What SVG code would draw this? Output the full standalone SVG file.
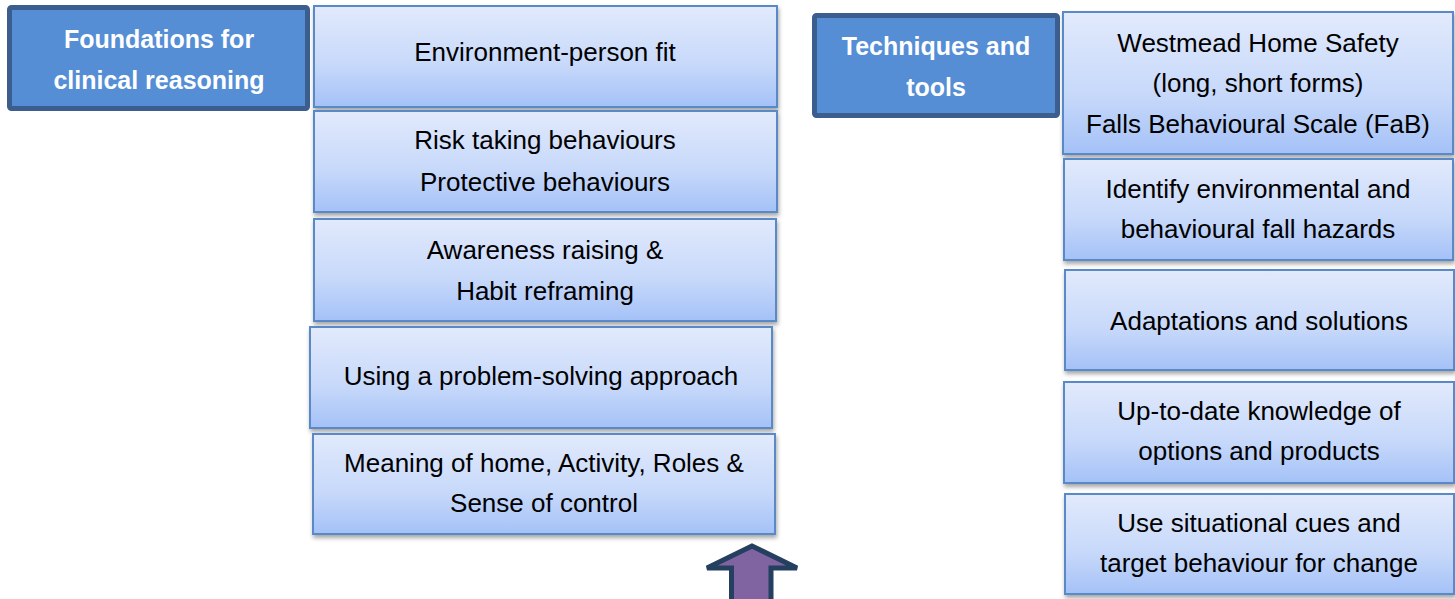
<svg xmlns="http://www.w3.org/2000/svg" width="1455" height="599" viewBox="0 0 1455 599">
<defs>
<linearGradient id="lg" x1="0" y1="0" x2="0" y2="1">
<stop offset="0" stop-color="#E2EAFC"/>
<stop offset="0.6" stop-color="#C6D8FA"/>
<stop offset="1" stop-color="#A4C1F7"/>
</linearGradient>
<filter id="sh" x="-5%" y="-10%" width="110%" height="130%">
<feDropShadow dx="1" dy="3" stdDeviation="2" flood-color="#000" flood-opacity="0.35"/>
</filter>
</defs>
<style>
.box{fill:url(#lg);stroke:#5A89C8;stroke-width:2;filter:url(#sh)}
.hdr{fill:#558ED5;stroke:#3B5E8E;stroke-width:5}
.t{font-family:"Liberation Sans",Arial,sans-serif;font-size:26px;fill:#000;text-anchor:middle}
.h{font-family:"Liberation Sans",Arial,sans-serif;font-size:25px;font-weight:bold;fill:#fff;text-anchor:middle}
</style>
<g id="hdr-left">
<rect class="hdr" x="9.5" y="7.5" width="298" height="101" rx="2"/>
<text class="h" x="159" y="48">Foundations for</text>
<text class="h" x="159" y="89">clinical reasoning</text>
</g>
<g id="hdr-right">
<rect class="hdr" x="814.5" y="15.5" width="243" height="100" rx="2"/>
<text class="h" x="936" y="55">Techniques and</text>
<text class="h" x="936" y="96">tools</text>
</g>
<g id="l1"><rect class="box" x="314" y="6" width="463" height="101"/>
<text class="t" x="545" y="61">Environment-person fit</text></g>
<g id="l2"><rect class="box" x="314" y="111" width="463" height="101"/>
<text class="t" x="545" y="149">Risk taking behaviours</text>
<text class="t" x="545" y="191">Protective behaviours</text></g>
<g id="l3"><rect class="box" x="314" y="219" width="462" height="102"/>
<text class="t" x="545" y="259">Awareness raising &amp;</text>
<text class="t" x="545" y="300">Habit reframing</text></g>
<g id="l4"><rect class="box" x="310" y="327" width="462" height="101"/>
<text class="t" x="541" y="385">Using a problem-solving approach</text></g>
<g id="l5"><rect class="box" x="313" y="434" width="462" height="100"/>
<text class="t" x="544" y="472">Meaning of home, Activity, Roles &amp;</text>
<text class="t" x="544" y="512">Sense of control</text></g>
<g id="r1"><rect class="box" x="1063" y="12" width="390" height="142"/>
<text class="t" x="1258" y="52">Westmead Home Safety</text>
<text class="t" x="1258" y="92">(long, short forms)</text>
<text class="t" x="1258" y="133">Falls Behavioural Scale (FaB)</text></g>
<g id="r2"><rect class="box" x="1064" y="159" width="389" height="101"/>
<text class="t" x="1258" y="198">Identify environmental and</text>
<text class="t" x="1258" y="238">behavioural fall hazards</text></g>
<g id="r3"><rect class="box" x="1065" y="270" width="389" height="100"/>
<text class="t" x="1259" y="330">Adaptations and solutions</text></g>
<g id="r4"><rect class="box" x="1064" y="382" width="390" height="101"/>
<text class="t" x="1259" y="420">Up-to-date knowledge of</text>
<text class="t" x="1259" y="460">options and products</text></g>
<g id="r5"><rect class="box" x="1065" y="494" width="389" height="100"/>
<text class="t" x="1259" y="532">Use situational cues and</text>
<text class="t" x="1259" y="572">target behaviour for change</text></g>
<g id="connectors">
<polygon points="752,546 707,568 731.5,568 731.5,606 771,606 771,568 797,568" fill="#8064A2" stroke="#243F60" stroke-width="5" stroke-linejoin="miter"/>
</g>
</svg>
